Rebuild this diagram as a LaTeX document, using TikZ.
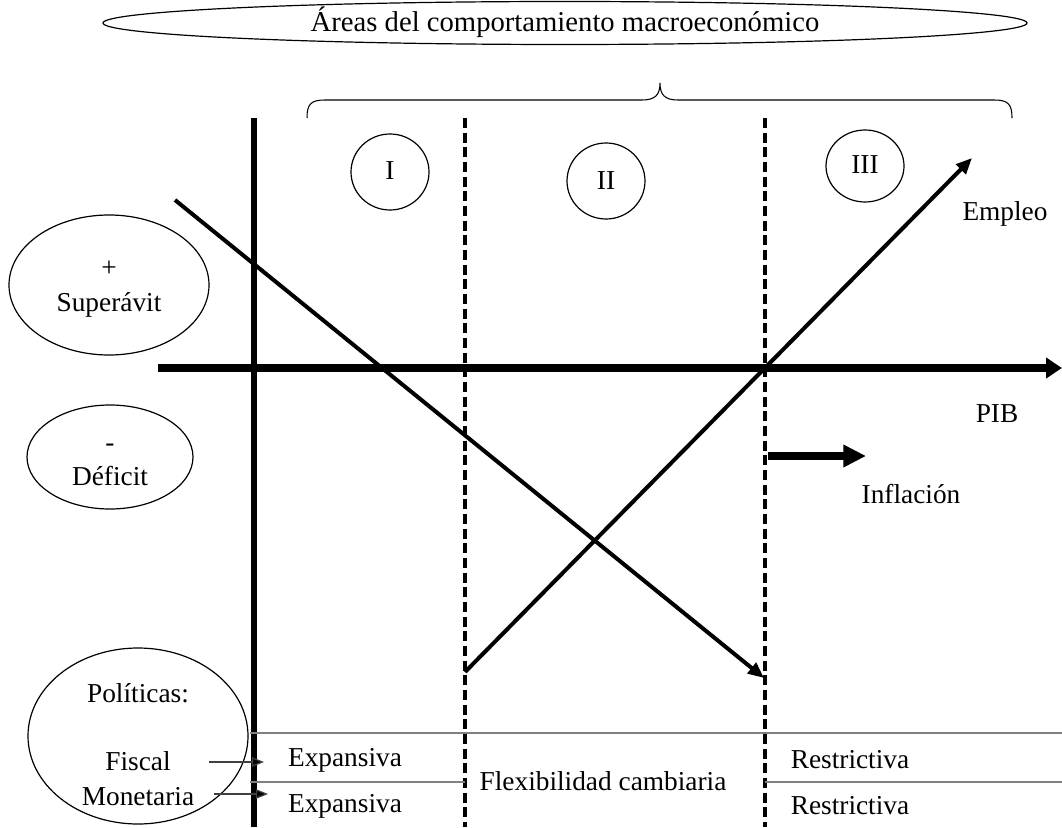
\documentclass[tikz,border=0pt]{standalone}
\usepackage{fontspec}
\setmainfont{Liberation Serif}
\usetikzlibrary{arrows.meta}
\begin{document}
\begin{tikzpicture}[x=0.75pt,y=-0.75pt,
  lbl/.style={font=\fontsize{20.5}{24}\selectfont, inner sep=0pt},
  titlelbl/.style={font=\fontsize{21.5}{24}\selectfont, inner sep=0pt},
  ovalline/.style={line width=0.9pt},
  solidv/.style={line width=4.3pt},
  dashv/.style={line width=2.8pt, dash pattern=on 7.5pt off 3.5pt},
  axisarrow/.style={line width=6pt, -{Triangle[length=12pt,width=15pt]}},
  diag/.style={line width=3pt, -{Triangle[length=12pt,width=10pt]}},
  thickarrow/.style={line width=5.5pt, -{Triangle[length=17pt,width=16pt]}},
  polarrow/.style={line width=0.9pt, black!75, -{Triangle[length=9pt,width=7pt,fill=black]}},
  grayline/.style={line width=1.5pt, black!50}
]
\useasboundingbox (0,0) rectangle (1062,827);

% top ellipse and brace
\coordinate (areasc) at (565,23);
\draw[ovalline] (areasc) ellipse [x radius=462, y radius=21.5];
\node[titlelbl] (areas) at (565,22) {Áreas del comportamiento macroeconómico};
\coordinate (brL) at (307,118);
\coordinate (brT) at (660,83);
\coordinate (brR) at (1012,118);
\draw[line width=0.8pt] (brL) .. controls (307,104) and (311,100) .. (325,100) -- (642,100)
  .. controls (655,100) and (660,95) .. (brT)
  .. controls (660,95) and (665,100) .. (678,100) -- (994,100)
  .. controls (1008,100) and (1012,104) .. (brR);

% vertical lines
\coordinate (v1t) at (254,118); \coordinate (v1b) at (254,827);
\coordinate (v2t) at (465,118); \coordinate (v2b) at (465,827);
\coordinate (v3t) at (765,118); \coordinate (v3b) at (765,827);
\draw[solidv] (v1t) -- (v1b);
\draw[dashv] (v2t) -- (v2b);
\draw[dashv] (v3t) -- (v3b);

% axis
\coordinate (ax0) at (158,368); \coordinate (ax1) at (1062,368);
\draw[axisarrow] (ax0) -- (ax1);

% area circles
\coordinate (c1c) at (390,172); \draw[ovalline] (c1c) ellipse [x radius=39, y radius=38];
\coordinate (c2c) at (606,181); \draw[ovalline] (c2c) ellipse [x radius=39, y radius=38];
\coordinate (c3c) at (865,166); \draw[ovalline] (c3c) ellipse [x radius=39, y radius=36];
\node[lbl] (c1) at (390,171) {I};
\node[lbl] (c2) at (606,181) {II};
\node[lbl] (c3) at (865,165) {III};

% diagonals
\coordinate (d0) at (175,200); \coordinate (d1) at (764,678);
\coordinate (a0) at (465,672); \coordinate (a1) at (972,158);
\draw[diag] (d0) -- (d1);
\draw[diag] (a0) -- (a1);

\node[lbl, anchor=base] (empleo) at (1005,220) {Empleo};
\node[lbl, anchor=base] (pib) at (997,422) {PIB};

% inflation arrow
\coordinate (i0) at (768,456); \coordinate (i1) at (866,456);
\draw[thickarrow] (i0) -- (i1);
\node[lbl, anchor=base] (infl) at (911,503) {Inflación};

% left ellipses
\coordinate (supc) at (109,285);
\draw[ovalline] (supc) ellipse [x radius=100, y radius=70];
\node[lbl, anchor=base] (supplus) at (109,276) {+};
\node[lbl, anchor=base] (suptxt) at (109,311) {Superávit};
\coordinate (defc) at (110,457);
\draw[ovalline] (defc) ellipse [x radius=83, y radius=52];
\node[lbl, anchor=base] (defminus) at (110,451) {-};
\node[lbl, anchor=base] (deftxt) at (110,485) {Déficit};

\coordinate (polc) at (138,736);
\draw[ovalline] (polc) ellipse [x radius=110, y radius=88];
\node[lbl, anchor=base] (poltxt) at (138,702) {Políticas:};
\node[lbl, anchor=base] (fiscal) at (138,770) {Fiscal};
\node[lbl, anchor=base] (monet) at (138,805) {Monetaria};

% table lines
\coordinate (g1a) at (250,733); \coordinate (g1b) at (1062,733);
\coordinate (g2a) at (250,782); \coordinate (g2b) at (465,782);
\coordinate (g3a) at (765,782); \coordinate (g3b) at (1062,782);
\draw[grayline] (g1a) -- (g1b);
\draw[grayline] (g2a) -- (g2b);
\draw[grayline] (g3a) -- (g3b);

% policy arrows
\coordinate (f0) at (209,762); \coordinate (f1) at (264,762);
\coordinate (m0) at (214,794); \coordinate (m1) at (268,794);
\draw[polarrow] (f0) -- (f1);
\draw[polarrow] (m0) -- (m1);

\node[lbl, anchor=base] (exp1) at (345,766) {Expansiva};
\node[lbl, anchor=base] (exp2) at (345,812) {Expansiva};
\node[lbl, anchor=base] (flex) at (603,790) {Flexibilidad cambiaria};
\node[lbl, anchor=base] (res1) at (850,768) {Restrictiva};
\node[lbl, anchor=base] (res2) at (850,814) {Restrictiva};
\end{tikzpicture}
\end{document}
